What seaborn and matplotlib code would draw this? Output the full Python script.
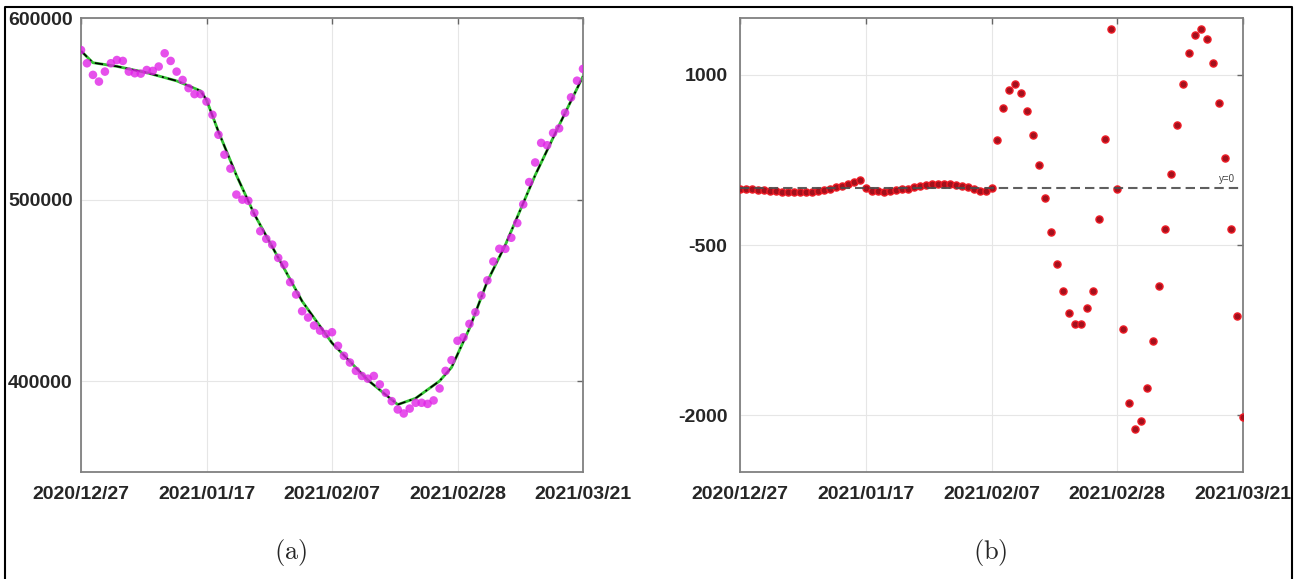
import pandas as pd
import seaborn as sns
import matplotlib.pyplot as plt
from matplotlib.lines import Line2D

start = pd.Timestamp("2020-12-27")
days = pd.date_range(start, periods=85, freq="D")

# (a) observed daily values
observed = [582500, 575200, 568800, 565100, 570600, 575200, 577000, 576500, 570600, 569700,
            569500, 571500, 571000, 573400, 580700, 576500, 570600, 566000, 561500, 558200,
            558200, 554100, 546800, 535800, 524800, 517100, 502800, 500000, 499400, 492700,
            482600, 478400, 475200, 467900, 464200, 454500, 447700, 438500, 435000, 430600,
            427800, 425900, 426900, 419400, 413900, 410200, 405600, 402800, 401300, 402800,
            398100, 393500, 388900, 384300, 382100, 384800, 388000, 388000, 387400, 389300,
            395900, 405600, 411500, 422200, 424100, 431500, 437900, 447200, 455500, 465900,
            472900, 472900, 479000, 487100, 497400, 509700, 520500, 531300, 530000, 536800,
            539300, 547900, 556400, 565600, 572100]

trend_day = [0, 2, 6, 11, 16, 20, 21, 23, 26, 29, 33, 37, 42, 48, 53, 56, 60, 62, 65, 68,
             71, 76, 80, 84]
trend_val = [582000, 575500, 573500, 570000, 565500, 560000, 555000, 537500, 513500, 492000,
             468000, 444000, 421000, 400500, 387000, 390500, 400000, 407500, 429000, 455000,
             475000, 513500, 541000, 568000]

# (b) daily values
resid = [-5, -8, -10, -14, -18, -22, -26, -30, -32, -34,
         -35, -34, -30, -22, -12, -2, 10, 24, 40, 58,
         77, 5, -20, -28, -30, -25, -18, -10, -2, 8,
         18, 28, 34, 38, 38, 34, 28, 20, 10, -2,
         -20, -25, 0, 428, 713, 869, 918, 839, 684, 467,
         202, -88, -384, -665, -909, -1097, -1193, -1193, -1056, -903,
         -275, 437, 1402, -5, -1237, -1897, -2124, -2050, -1765, -1349,
         -865, -363, 127, 560, 924, 1191, 1352, 1408, 1314, 1103,
         751, 264, -363, -1126, -2021]

tick_dates = pd.to_datetime(["2020-12-27", "2021-01-17", "2021-02-07", "2021-02-28", "2021-03-21"])
tick_labels = ["2020/12/27", "2021/01/17", "2021/02/07", "2021/02/28", "2021/03/21"]
yticks_a = [400000, 500000, 600000]
yticks_b = [-2000, -500, 1000]

sns.set_theme(style="whitegrid")
plt.rcParams["font.family"] = ["Liberation Sans", "DejaVu Sans"]
plt.rcParams["mathtext.fontset"] = "cm"

fig = plt.figure(figsize=(12.99, 5.79), dpi=100)
ax1 = fig.add_axes([81 / 1299, 107.3 / 579, 502 / 1299, 453.4 / 579])
ax2 = fig.add_axes([740 / 1299, 107.3 / 579, 503 / 1299, 453.4 / 579])

trend_dates = [start + pd.Timedelta(days=d) for d in trend_day]

# panel (a)
sns.lineplot(x=trend_dates, y=trend_val, color="#33c433", lw=2.0, ax=ax1, zorder=2)
sns.lineplot(x=trend_dates, y=trend_val, color="black", lw=1.2,
             linestyle=(0, (5, 2.5, 1.2, 2.5)), ax=ax1, zorder=3)
sns.scatterplot(x=days, y=observed, color="#e024e6", s=38, edgecolor="none", alpha=0.8,
                ax=ax1, zorder=4)
ax1.set_ylim(350000, 600000)
ax1.set_yticks(yticks_a)
ax1.set_yticklabels([str(v) for v in yticks_a])

# panel (b)
sns.scatterplot(x=days, y=resid, color="#a3101c", s=26, edgecolor="#ee1c26", linewidth=1.0,
                ax=ax2, zorder=3)
ax2.axhline(0, color="#4d4d4d", lw=1.5, linestyle=(0, (4.5, 2.4)), zorder=4, alpha=0.9)
ax2.text(0.985, 35, "y=0", transform=ax2.get_yaxis_transform(), ha="right", va="bottom",
         fontsize=7, color="#444444")
ax2.set_ylim(-2500, 1500)
ax2.set_yticks(yticks_b)
ax2.set_yticklabels([str(v) for v in yticks_b])

for ax, ypad in [(ax1, 6), (ax2, 9)]:
    ax.set_xlim(start, start + pd.Timedelta(days=84))
    ax.set_xticks(tick_dates)
    ax.set_xticklabels(tick_labels)
    ax.set_xlabel("")
    ax.set_ylabel("")
    ax.grid(True, color="#e6e6e6", lw=0.8)
    for s in ax.spines.values():
        s.set_color("#808080")
        s.set_linewidth(1.3)
    ax.tick_params(axis="both", direction="in", length=4, width=1, color="#666666",
                   labelsize=14, labelcolor="#262626", top=True, right=True)
    ax.tick_params(axis="x", pad=10)
    ax.tick_params(axis="y", pad=ypad)
    for lab in ax.get_xticklabels() + ax.get_yticklabels():
        lab.set_fontweight("bold")

fig.text(291 / 1299, 1 - 553 / 579, r"$(\mathrm{a})$", fontsize=19, ha="center", va="center")
fig.text(990 / 1299, 1 - 553 / 579, r"$(\mathrm{b})$", fontsize=19, ha="center", va="center")

# outer frame of the figure
fx0, fx1, fy1 = 5 / 1299, 1292 / 1299, 1 - 6.5 / 579
fig.add_artist(Line2D([fx0, fx0, fx1, fx1], [0, fy1, fy1, 0], color="black", lw=1.5,
                      transform=fig.transFigure))

fig.savefig("out.png", dpi=100)
